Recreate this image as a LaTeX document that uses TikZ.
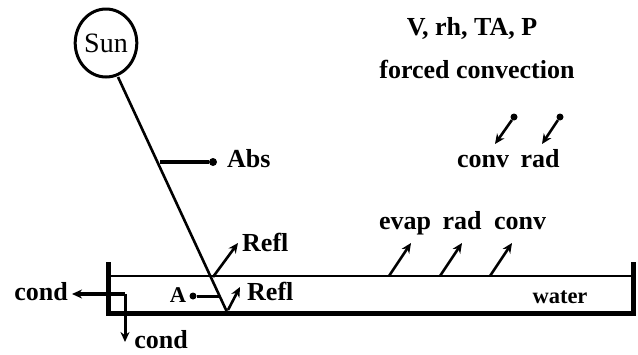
\documentclass[tikz,border=0pt]{standalone}
\usepackage{fontspec}
\setmainfont{Liberation Serif}
\usetikzlibrary{arrows.meta,shapes.geometric,calc}
\begin{document}
\begin{tikzpicture}[x=1pt,y=-1pt,
  lbl/.style={font=\bfseries\fontsize{26}{26}\selectfont, inner sep=0pt},
  small/.style={font=\bfseries\fontsize{22.5}{22.5}\selectfont, inner sep=0pt},
  arr/.style={line width=2.6pt,-{Stealth[length=10pt,width=9pt]}},
  dot/.style={circle,fill=black,inner sep=0pt,minimum size=8pt}]
\useasboundingbox[fill=white] (0,0) rectangle (638,354);
% Sun
\node[ellipse,draw,line width=3pt,minimum width=57pt,minimum height=68pt,inner sep=0pt,
  font=\fontsize{28}{28}\selectfont] (sun) at (106,43) {Sun};
\coordinate (s0) at (118,77);
\coordinate (s1) at (213,277);
\coordinate (s2) at (227,312);
\draw[line width=2.6pt] (s0) -- (s2);
% Abs
\coordinate (absL) at (160,162);
\node[dot] (absD) at (213,162) {};
\draw[line width=4pt] (absL) -- (absD);
\node[lbl,anchor=base west] (abs) at (227,167) {Abs};
% tank
\coordinate (tl) at (108,262);
\coordinate (bl) at (108,313);
\coordinate (br) at (633,313);
\coordinate (tr) at (633,262);
\draw[line width=5pt,line join=miter] (tl) -- (bl) -- (br) -- (tr);
\coordinate (wl) at (110,276);
\coordinate (wr) at (633,276);
\draw[line width=2.6pt] (wl) -- (wr);
\node[small,anchor=base] (water) at (560,303) {water};
% A
\node[small,anchor=base] (A) at (178,302) {A};
\node[dot,minimum size=7pt] (Ad) at (193,296) {};
\coordinate (As) at (219.5,296);
\draw[line width=3pt] (Ad) -- (As);
% Refl
\coordinate (r1) at (238,243);
\draw[arr] (s1) -- (r1);
\node[lbl,anchor=base west] (refl1) at (242,251) {Refl};
\coordinate (r2a) at (228,310);
\coordinate (r2) at (240,287);
\draw[arr] (r2a) -- (r2);
\node[lbl,anchor=base west] (refl2) at (247,300) {Refl};
% cond
\coordinate (c0) at (125,294);
\coordinate (cl) at (72,294);
\coordinate (cb) at (125,342);
\draw[line width=4pt,-{Stealth[length=10pt,width=9pt]}] (c0) -- (cl);
\draw[line width=3pt,-{Stealth[length=10pt,width=9pt]}] (c0) -- (cb);
\node[lbl,anchor=base] (condL) at (41,300) {cond};
\node[lbl,anchor=base] (condB) at (161,348) {cond};
% surface arrows
\coordinate (e0) at (389,276); \coordinate (e1) at (411,243);
\coordinate (q0) at (440,276); \coordinate (q1) at (462,243);
\coordinate (k0) at (490,276); \coordinate (k1) at (512,243);
\draw[arr] (e0) -- (e1);
\draw[arr] (q0) -- (q1);
\draw[arr] (k0) -- (k1);
\node[lbl,anchor=base] (evap) at (405,229) {evap};
\node[lbl,anchor=base] (rad1) at (462,229) {rad};
\node[lbl,anchor=base] (conv1) at (520,229) {conv};
% top
\node[lbl,anchor=base] (vars) at (472,35) {V, rh, TA, P};
\node[lbl,anchor=base] (forced) at (477,78) {forced convection};
\node[dot,minimum size=7pt] (d1) at (514,117) {};
\node[dot,minimum size=7pt] (d2) at (560,117) {};
\coordinate (t1) at (495,144);
\coordinate (t2) at (542,144);
\draw[arr] (d1) -- (t1);
\draw[arr] (d2) -- (t2);
\node[lbl,anchor=base] (conv2) at (483,167) {conv};
\node[lbl,anchor=base] (rad2) at (540,167) {rad};
\end{tikzpicture}
\end{document}
